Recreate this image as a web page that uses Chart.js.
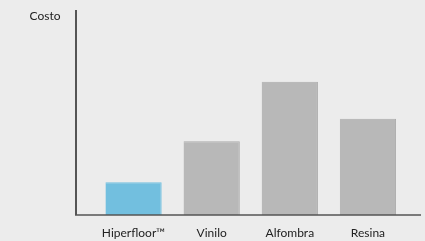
<!DOCTYPE html>
<html>
<head>
<meta charset="utf-8">
<script src="https://cdn.jsdelivr.net/npm/chart.js@4"></script>
<style>
    html, body { margin: 0; padding: 0; background: #ececec; overflow: hidden; }
    canvas { display: block; }
</style>
</head>
<body>
<canvas id="chart" width="425" height="241"></canvas>
<script>
const categories = ["Hiperfloor™", "Vinilo", "Alfombra", "Resina"];
const costs = [16, 36, 65, 47];
const yMax = 100;
const yLabel = "Costo";

const barColors = ["#72bfdf", "#b8b8b8", "#b8b8b8", "#b8b8b8"];
const barBorders = ["#72bfdf", "#ababab", "#ababab", "#ababab"];

// background + axis lines that run past the bar area
const decor = {
    id: "decor",
    beforeDraw(chart) {
        const ctx = chart.ctx;
        ctx.save();
        ctx.fillStyle = "#ececec";
        ctx.fillRect(0, 0, chart.width, chart.height);
        ctx.restore();
    },
    afterDatasetsDraw(chart) {
        const { ctx, chartArea } = chart;
        const axisX = chartArea.left - 18.5;
        ctx.save();
        ctx.strokeStyle = "#555555";
        ctx.lineWidth = 2;
        ctx.beginPath();
        ctx.moveTo(axisX, chartArea.top);
        ctx.lineTo(axisX, chartArea.bottom);
        ctx.stroke();
        ctx.lineWidth = 1.5;
        ctx.beginPath();
        ctx.moveTo(axisX - 1, chartArea.bottom);
        ctx.lineTo(chartArea.right + 14, chartArea.bottom);
        ctx.stroke();

        ctx.fillStyle = "#222222";
        ctx.font = "12px Lato";
        ctx.textAlign = "right";
        ctx.textBaseline = "middle";
        ctx.fillText(yLabel, axisX - 15.5, chartArea.top + 6.5);
        ctx.restore();
    },
};

new Chart(document.getElementById("chart"), {
    type: "bar",
    data: {
        labels: categories,
        datasets: [
            {
                data: costs,
                backgroundColor: barColors,
                borderColor: barBorders,
                borderWidth: { top: 1, right: 1, left: 0, bottom: 0 },
                borderSkipped: "bottom",
                barPercentage: 0.72,
                categoryPercentage: 1,
            },
        ],
    },
    options: {
        responsive: false,
        animation: false,
        layout: {
            padding: { left: 94.5, right: 18, top: 10, bottom: 0 },
        },
        plugins: {
            legend: { display: false },
            tooltip: { enabled: false },
        },
        scales: {
            x: {
                grid: { display: false, drawTicks: false },
                border: { display: false },
                ticks: {
                    padding: 11,
                    color: "#222222",
                    font: { family: "Lato", size: 12 },
                    maxRotation: 0,
                },
                afterFit(scale) {
                    scale.height = 26;
                },
            },
            y: {
                display: false,
                min: 0,
                max: yMax,
            },
        },
    },
    plugins: [decor],
});
</script>
</body>
</html>
